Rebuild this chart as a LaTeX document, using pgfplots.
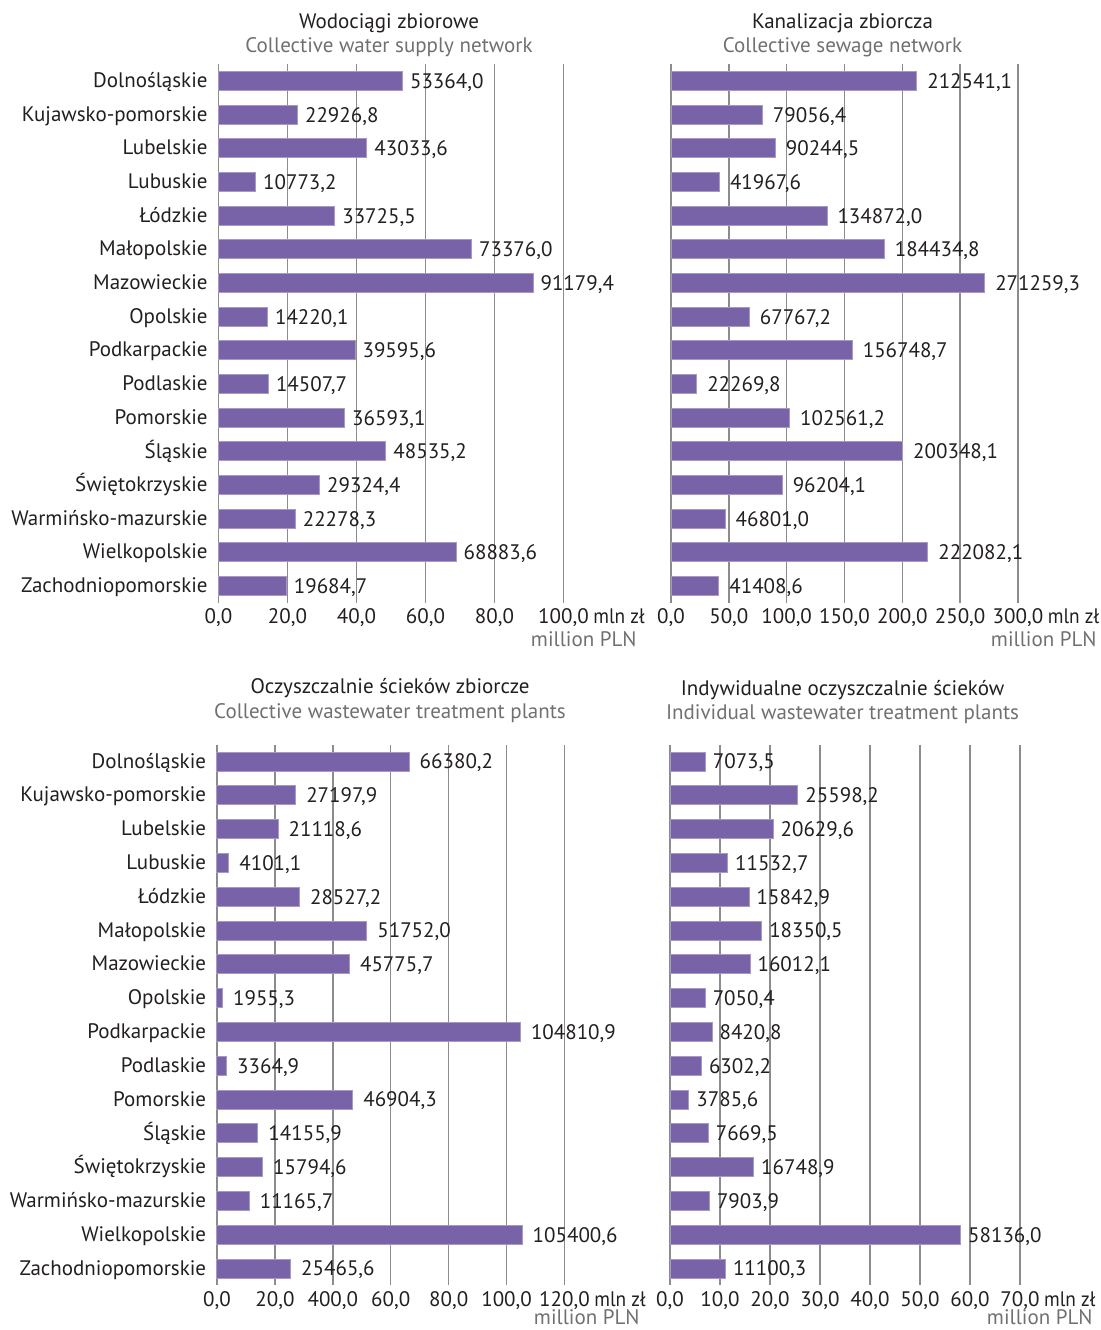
\documentclass[border=0pt]{standalone}
\usepackage{fontspec}
\setmainfont{PT Sans}
\usepackage{pgfplots}
\pgfplotsset{compat=1.18}
\usepackage{pgfplotstable}

\definecolor{barc}{RGB}{120,98,168}
\definecolor{gridc}{RGB}{140,140,140}
\definecolor{subc}{RGB}{112,112,112}
\definecolor{txt}{RGB}{35,31,32}

% values in thousand zl
\pgfplotstableread{
idx wod kan ocz ind
0  53364.0 212541.1  66380.2  7073.5
1  22926.8  79056.4  27197.9 25598.2
2  43033.6  90244.5  21118.6 20629.6
3  10773.2  41967.6   4101.1 11532.7
4  33725.5 134872.0  28527.2 15842.9
5  73376.0 184434.8  51752.0 18350.5
6  91179.4 271259.3  45775.7 16012.1
7  14220.1  67767.2   1955.3  7050.4
8  39595.6 156748.7 104810.9  8420.8
9  14507.7  22269.8   3364.9  6302.2
10 36593.1 102561.2  46904.3  3785.6
11 48535.2 200348.1  14155.9  7669.5
12 29324.4  96204.1  15794.6 16748.9
13 22278.3  46801.0  11165.7  7903.9
14 68883.6 222082.1 105400.6 58136.0
15 19684.7  41408.6  25465.6 11100.3
}\data

\def\commadec#1.#2\relax{#1,#2}
\newcommand\fs{\fontsize{10.5}{12.6}\selectfont}
\newcommand\unit{\rlap{\addfontfeature{FakeStretch=0.92}\hspace{0.22em}mln zł}}

\pgfplotsset{
  panel/.style={
    xbar, scale only axis, y dir=reverse,
    ymin=-0.5, ymax=15.5, xmin=0,
    scaled x ticks=false,
    axis line style={draw=none},
    major tick length=0pt,
    xmajorgrids, major grid style={gridc, line width=0.7pt},
    bar width=9.5pt,
    typeset ticklabels with strut,
    tick label style={font=\fs, text=txt},
    xticklabel style={yshift=2pt},
    yticklabel style={inner sep=0pt, xshift=-5.25pt, yshift=-0.75pt},
    point meta=explicit symbolic,
    nodes near coords={\expandafter\commadec\pgfplotspointmeta\relax},
    every node near coord/.append style={anchor=west, inner sep=0pt,
      text depth=0pt, font=\fs, text=txt},
    clip=false,
  },
  regions/.style={
    ytick={0,...,15},
    yticklabels={Dolnośląskie, Kujawsko-pomorskie, Lubelskie, Lubuskie,
      Łódzkie, Małopolskie, Mazowieckie, Opolskie, Podkarpackie, Podlaskie,
      Pomorskie, Śląskie, Świętokrzyskie, Warmińsko-mazurskie,
      Wielkopolskie, Zachodniopomorskie},
  },
  barplot/.style={fill=barc, draw=barc!65!white, line width=0.5pt},
}

\begin{document}
\begin{tikzpicture}
\useasboundingbox (0,0) rectangle (550.5pt,665pt);

% top left
\begin{axis}[panel, regions, at={(109.25pt,363.6pt)}, anchor=south west,
  width=172.5pt, height=269.3pt, xmax=100000,
  xtick={0,20000,40000,60000,80000,100000},
  xticklabels={{0,0}, {20,0}, {40,0}, {60,0}, {80,0}, {100,0\unit}},
  every node near coord/.append style={xshift=3.5pt}]
\addplot[barplot] table[x=wod, y=idx, meta=wod] {\data};
\end{axis}

% top right
\begin{axis}[panel, ytick=\empty, at={(335.5pt,363.6pt)}, anchor=south west,
  width=173.5pt, height=269.3pt, xmax=300000,
  xtick={0,50000,100000,150000,200000,250000,300000},
  xticklabels={{0,0}, {50,0}, {100,0}, {150,0}, {200,0}, {250,0}, {300,0\unit}},
  every node near coord/.append style={xshift=5pt}]
\addplot[barplot] table[x=kan, y=idx, meta=kan] {\data};
\end{axis}

% bottom left
\begin{axis}[panel, regions, at={(108.5pt,22.3pt)}, anchor=south west,
  width=173.75pt, height=270.4pt, xmax=120000,
  xtick={0,20000,40000,60000,80000,100000,120000},
  xticklabels={{0,0}, {20,0}, {400,0}, {60,0}, {80,0}, {100,0}, {120,0\unit}},
  every node near coord/.append style={xshift=5pt}]
\addplot[barplot] table[x=ocz, y=idx, meta=ocz] {\data};
\end{axis}

% bottom right
\begin{axis}[panel, ytick=\empty, at={(335pt,22.3pt)}, anchor=south west,
  width=175pt, height=270.4pt, xmax=70000,
  xtick={0,10000,20000,30000,40000,50000,60000,70000},
  xticklabels={{0,0}, {10,0}, {20,0}, {30,0}, {40,0}, {50,0}, {60,0}, {70,0\unit}},
  every node near coord/.append style={xshift=3.5pt}]
\addplot[barplot] table[x=ind, y=idx, meta=ind] {\data};
\end{axis}

% titles
\begin{scope}[every node/.style={font=\fs, inner sep=0pt}]
\node[text=txt]  at (194.5pt,653.5pt) {Wodociągi zbiorowe};
\node[text=subc] at (194.5pt,641.5pt) {Collective water supply network};
\node[text=txt]  at (421.25pt,653.5pt) {Kanalizacja zbiorcza};
\node[text=subc] at (421.25pt,641.5pt) {Collective sewage network};
\node[text=txt]  at (195pt,321pt) {Oczyszczalnie ścieków zbiorcze};
\node[text=subc] at (195pt,308.5pt) {Collective wastewater treatment plants};
\node[text=txt]  at (421.25pt,320pt) {Indywidualne oczyszczalnie ścieków};
\node[text=subc] at (421.25pt,308pt) {Individual wastewater treatment plants};

\node[text=subc, anchor=east] at (318.5pt,345.5pt) {million PLN};
\node[text=subc, anchor=east] at (548.5pt,345.5pt) {million PLN};
\node[text=subc, anchor=east] at (320pt,6.5pt) {million PLN};
\node[text=subc, anchor=east] at (546.5pt,6.5pt) {million PLN};
\end{scope}
\end{tikzpicture}
\end{document}
